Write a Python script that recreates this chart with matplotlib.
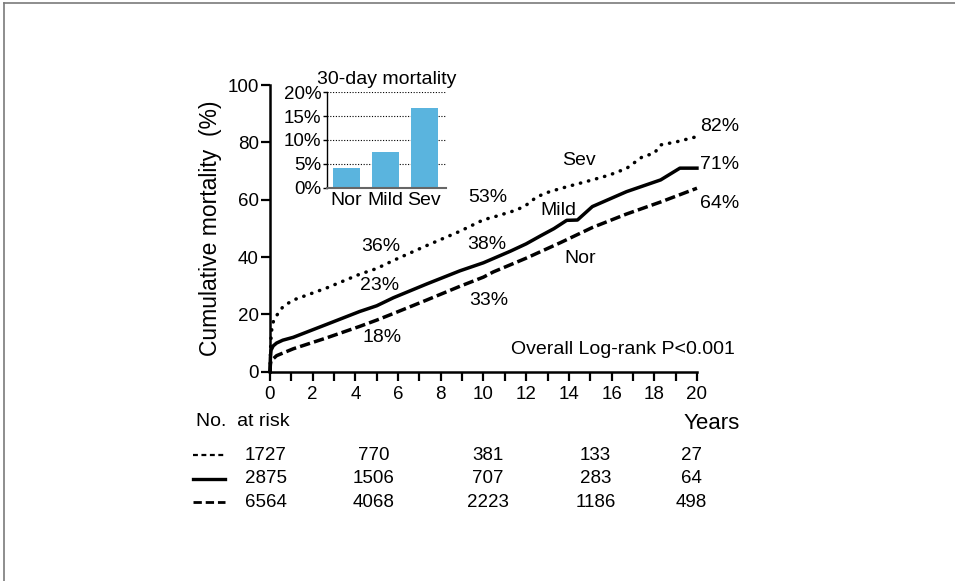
import matplotlib.pyplot as plt
from matplotlib.lines import Line2D
from matplotlib.ticker import MultipleLocator, FuncFormatter

plt.rcParams['font.family'] = ['Liberation Sans', 'DejaVu Sans']

# cumulative mortality (%) over follow-up (years), one curve per group
t_sev = [0, 0.02, 0.05, 0.1, 0.2, 0.4, 0.62, 1.09, 2.65, 4.2, 5, 5.78, 7.34, 8.9, 10,
         10.5, 11.55, 12.0, 12.5, 13.1, 13.9, 15.1, 15.9, 16.7, 17.45, 18.0, 18.3, 19.05, 20]
m_sev = [0, 6, 12, 16, 18.5, 20.5, 22.8, 25.0, 29.2, 34.0, 36, 38.8, 44.0, 49.0, 53,
         54.0, 56.4, 58.1, 61.0, 62.8, 64.5, 66.9, 68.6, 70.9, 75.0, 76.2, 79.1, 80.2, 82]

t_mild = [0, 0.02, 0.05, 0.15, 0.31, 0.6, 1.09, 2.65, 4.2, 5, 5.78, 7.34, 8.9, 10,
          11.25, 12.0, 12.7, 13.3, 13.9, 14.4, 15.1, 16.7, 18.3, 19.2, 20]
m_mild = [0, 5, 7.5, 9, 10, 11, 12.0, 16.5, 21.0, 23, 25.8, 30.6, 35.2, 38,
          42.0, 44.6, 47.5, 49.9, 52.8, 52.9, 57.6, 62.8, 66.9, 71.0, 71]

t_nor = [0, 0.02, 0.05, 0.31, 1.09, 2.65, 4.2, 5, 5.78, 7.34, 8.9, 10, 10.46,
         12.0, 13.6, 15.1, 16.7, 18.3, 20]
m_nor = [0, 2.5, 3.8, 5.6, 8.0, 11.8, 15.8, 18, 20.3, 25.0, 29.8, 33, 34.8,
         39.6, 45.0, 50.3, 55.0, 59.2, 64]

# 30-day mortality (%)
groups = ['Nor', 'Mild', 'Sev']
mort30 = [4.2, 7.5, 16.6]

# number at risk
risk_sev = [1727, 770, 381, 133, 27]
risk_mild = [2875, 1506, 707, 283, 64]
risk_nor = [6564, 4068, 2223, 1186, 498]

fig = plt.figure(figsize=(9.55, 5.81), dpi=100)

# thin frame on the left and top edges
fig.add_artist(Line2D([0.0045, 0.0045], [0, 0.995], transform=fig.transFigure,
                      color='#7a7a7a', lw=1.2))
fig.add_artist(Line2D([0.0045, 1], [0.995, 0.995], transform=fig.transFigure,
                      color='#7a7a7a', lw=1.2))

ax = fig.add_axes([0.2827, 0.3602, 0.4471, 0.4935])
lw = 2.5
ax.plot(t_sev, m_sev, color='black', lw=lw, linestyle=(0, (0.1, 2.3)),
        dash_capstyle='round', clip_on=False)
ax.plot(t_mild, m_mild, color='black', lw=lw, clip_on=False)
ax.plot(t_nor, m_nor, color='black', lw=lw, linestyle=(0, (3.0, 1.2)),
        clip_on=False)

ax.set_xlim(0, 20)
ax.set_ylim(0, 100)
ax.xaxis.set_major_locator(MultipleLocator(2))
ax.xaxis.set_minor_locator(MultipleLocator(1))
ax.yaxis.set_major_locator(MultipleLocator(20))
for s in ['top', 'right']:
    ax.spines[s].set_visible(False)
for s in ['left', 'bottom']:
    ax.spines[s].set_linewidth(1.8)
ax.tick_params(axis='both', which='both', direction='out', length=6.5, width=1.6,
               labelsize=13.5)
ax.tick_params(axis='y', pad=1.5)
ax.tick_params(axis='x', pad=4)
ax.set_ylabel('Cumulative mortality  (%)', fontsize=16.5, labelpad=4)

# in-plot annotations
fs = 14
notes = [('Sev', 14.47, 73.8), ('53%', 10.2, 60.6), ('Mild', 13.5, 56.4),
         ('36%', 5.2, 43.6), ('38%', 10.16, 44.2), ('Nor', 14.52, 39.6),
         ('23%', 5.15, 30.2), ('33%', 10.25, 25.0), ('18%', 5.26, 11.8)]
for txt, x, y in notes:
    ax.text(x, y, txt, fontsize=fs, ha='center', va='center')
for txt, y in [('82%', 85.4), ('71%', 72.4), ('64%', 58.8)]:
    ax.text(20.15, y, txt, fontsize=fs, ha='left', va='center', clip_on=False)
ax.text(11.28, 7.6, 'Overall Log-rank P<0.001', fontsize=fs, ha='left', va='center')

# number-at-risk table under the x axis
ax.text(-3.45, -17.4, 'No.  at risk', fontsize=14, ha='left', va='center', clip_on=False)
ax.text(19.35, -18.2, 'Years', fontsize=16, ha='left', va='center', clip_on=False)
col_x = [-0.2, 4.85, 10.2, 15.25, 19.75]
row_y = [-29.2, -37.3, -45.6]
styles = [dict(linestyle=(0, (2.2, 1.6)), lw=1.6),
          dict(linestyle='-', lw=2.4),
          dict(linestyle=(0, (3.0, 1.4)), lw=2.0)]
for counts, y, st in zip([risk_sev, risk_mild, risk_nor], row_y, styles):
    ax.add_line(Line2D([-3.6, -2.1], [y, y], color='black', clip_on=False, **st))
    for x, n in zip(col_x, counts):
        ax.text(x, y, str(n), fontsize=13.5, ha='center', va='center', clip_on=False)

# inset: 30-day mortality bars
ins = fig.add_axes([0.3424, 0.677, 0.1246, 0.1642])
ins.bar(range(len(groups)), mort30, width=0.7, color='#5ab4de', zorder=3)
ins.set_xlim(-0.5, 2.56)
ins.set_ylim(0, 20)
ins.yaxis.set_major_locator(MultipleLocator(5))
ins.yaxis.set_major_formatter(FuncFormatter(lambda v, p: f'{v:.0f}%'))
ins.set_xticks(range(len(groups)))
ins.set_xticklabels(groups)
ins.grid(axis='y', linestyle=(0, (1, 1.5)), color='black', lw=0.8, zorder=0)
for s in ['top', 'right']:
    ins.spines[s].set_visible(False)
ins.spines['left'].set_linewidth(1.0)
ins.spines['bottom'].set_linewidth(1.5)
ins.spines['bottom'].set_color('#666666')
ins.spines['bottom'].set_zorder(4)
ins.tick_params(axis='x', length=0, labelsize=14, pad=3)
ins.tick_params(axis='y', length=3, width=1.0, labelsize=13.5, pad=1)
ins.set_title('30-day mortality', fontsize=14, pad=6)
ins.patch.set_alpha(0)

fig.savefig('out.png', dpi=100)
